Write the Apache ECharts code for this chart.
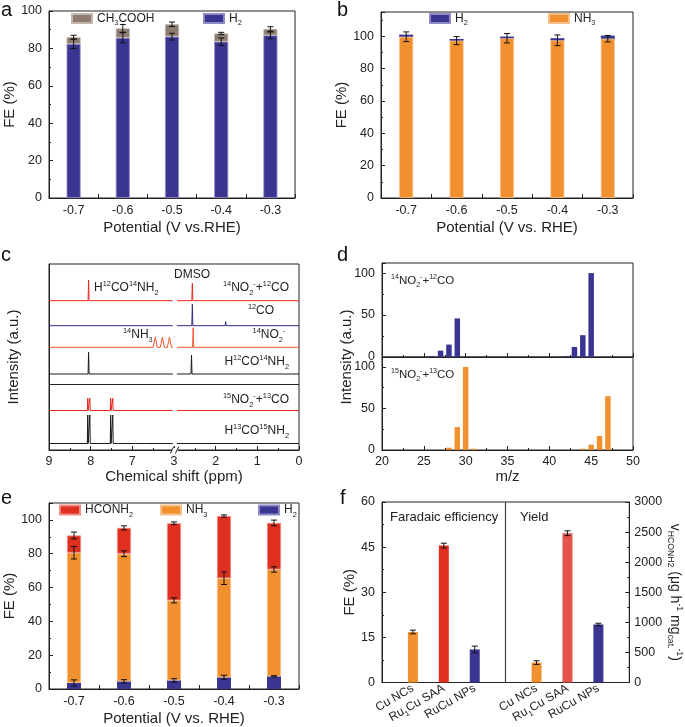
<!DOCTYPE html>
<html><head><meta charset="utf-8">
<script src="https://cdn.jsdelivr.net/npm/echarts@6/dist/echarts.min.js"></script>
<style>html,body{margin:0;padding:0;background:#fff}#c{width:685px;height:727px}</style>
</head><body><div id="c"></div>
<script>
// ---------------- DATA ----------------
const potentials = ['-0.7','-0.6','-0.5','-0.4','-0.3'];
// panel a
const aH2 = [82.4, 85.7, 86.3, 83.6, 87.0];
const aH2Err = [2.5, 2.7, 1.8, 2.0, 1.8];
const aCH3COOH = [3.6, 5.0, 6.6, 4.4, 3.4];
const aTotalErr = [1.0, 2.1, 1.2, 0.6, 1.2];
// panel b
const bNH3 = [99.7, 97.3, 98.8, 97.5, 98.5];
const bH2 = [1.3, 1.0, 1.0, 1.3, 1.9];
const bNH3Err = [3.0, 2.5, 2.9, 3.3, 2.0];
// panel c : NMR peaks [ppm, height (a.u.), half width (ppm)]
const nmrNames = ['^{14}NO_{2}^{-}+^{12}CO', '^{12}CO', '^{14}NO_{2}^{-}', 'H^{12}CO^{14}NH_{2}', '^{15}NO_{2}^{-}+^{13}CO', 'H^{13}CO^{15}NH_{2}'];
const nmrPeaks = [
  [[8.05,20.7,0.012],[2.56,17.4,0.012],[2.25,1.2,0.012],[1.77,1.5,0.012]],
  [[2.56,21.4,0.012],[1.76,4,0.012]],
  [[6.45,10,0.05],[6.28,10,0.05],[6.11,10,0.05],[2.54,19.6,0.012]],
  [[8.05,21.7,0.012],[2.58,19,0.012]],
  [[8.07,12.3,0.01],[8.02,12.3,0.01],[7.52,12.3,0.01],[7.47,12.3,0.01]],
  [[8.07,28.5,0.01],[8.02,28.5,0.01],[7.52,28.5,0.01],[7.47,28.5,0.01],[7.31,2,0.02],[7.06,1.5,0.02],[6.9,1.5,0.02],[6.66,1,0.02]]
];
// panel d : mass spectra
const dTopMz = [26, 27, 28, 29, 42, 43, 44, 45];
const dTopInt = [1, 7.6, 14.8, 46, 1, 12, 26, 100];
const dBotMz = [28, 29, 30, 31, 44, 45, 46, 47];
const dBotInt = [2.8, 27.6, 100, 1.5, 1.5, 6.4, 17, 64.8];
// panel e
const eH2 = [3.6, 4.5, 5.1, 6.9, 7.5];
const eNH3 = [77.0, 75.5, 47.3, 58.6, 63.2];
const eHCONH2 = [10.2, 15.3, 45.6, 36.8, 27.5];
const eH2Err = [1.8, 1.0, 1.0, 1.2, 0.4];
const eNH3Err = [3.7, 1.7, 1.5, 3.7, 1.6];
const eHCONH2Err = [2.0, 1.2, 0.8, 0.7, 1.7];
// panel f
const fCats = ['Cu NCs', 'Ru_{1}Cu SAA', 'RuCu NPs'];
const fFE = [16.8, 45.5, 11.0];
const fFEErr = [0.6, 0.8, 1.1];
const fYield = [331, 2481, 965];
const fYieldErr = [30, 40, 20];

// ---------------- LAYOUT / STYLE ----------------
const FONT = '"Liberation Sans", Arial, Helvetica, sans-serif';
const AX = '#222';
const C_BLUE = '#3b3592', C_BROWN = '#8d7c6f', C_ORANGE = '#f0902f', C_RED = '#df2f1f', C_RED2 = '#e5544c';
const nmrColors = ['#e8271f', '#2e2a8c', '#f0542b', '#1a1a1a', '#e8271f', '#1a1a1a'];
const nmrOffsets = [149.3, 124.3, 102.7, 76, 39.5, 6.5];
const legendNames = {H2: 'H_{2}', CH3COOH: 'CH_{3}COOH', NH3: 'NH_{3}', HCONH2: 'HCONH_{2}'};

function richFor(size){
  const s = Math.round(size * 0.62 * 10) / 10;
  return {
    n: {fontSize: size, lineHeight: size + 4, fontFamily: FONT, color: '#222'},
    nb: {fontSize: s, lineHeight: s, verticalAlign: 'bottom', fontFamily: FONT, color: '#222'},
    np: {fontSize: s, lineHeight: s, verticalAlign: 'top', fontFamily: FONT, color: '#222'}
  };
}
function rt(s){
  let out = '', buf = '', i = 0;
  const flush = () => { if (buf) { out += '{n|' + buf + '}'; buf = ''; } };
  while (i < s.length) {
    if ((s[i] === '_' || s[i] === '^') && s[i + 1] === '{') {
      flush();
      const j = s.indexOf('}', i);
      out += '{' + (s[i] === '_' ? 'nb' : 'np') + '|' + s.slice(i + 2, j) + '}';
      i = j + 1;
    } else { buf += s[i]; i++; }
  }
  flush();
  return out;
}
function errRender(params, api){
  const x = api.value(0);
  const lo = api.coord([x, api.value(1)]);
  const hi = api.coord([x, api.value(2)]);
  const c = 3, st = {stroke: '#111', lineWidth: 1};
  return {type: 'group', children: [
    {type: 'line', shape: {x1: lo[0], y1: lo[1], x2: hi[0], y2: hi[1]}, style: st},
    {type: 'line', shape: {x1: lo[0] - c, y1: lo[1], x2: lo[0] + c, y2: lo[1]}, style: st},
    {type: 'line', shape: {x1: hi[0] - c, y1: hi[1], x2: hi[0] + c, y2: hi[1]}, style: st}
  ]};
}
function errSeries(xi, yi, xs, centers, errs){
  return {type: 'custom', xAxisIndex: xi, yAxisIndex: yi, renderItem: errRender, silent: true, z: 6,
    encode: {x: 0, y: [1, 2]},
    data: centers.map((c, i) => [xs[i], c - errs[i], c + errs[i]])};
}
const idx5 = potentials.map((_, i) => i);
function cum(...arrs){ return arrs[0].map((_, i) => arrs.reduce((s, a) => s + a[i], 0)); }

const axLine = {show: true, onZero: false, lineStyle: {color: AX, width: 1}};
const tickIn = {show: true, inside: true, length: 4, lineStyle: {color: AX}};
const minorIn = {show: true, splitNumber: 2, length: 2, lineStyle: {color: AX}};
function lbl(extra){ return Object.assign({color: '#222', fontSize: 12.5, fontFamily: FONT}, extra || {}); }
const nameTS = {color: '#222', fontSize: 15, fontFamily: FONT};
const plain = v => String(v);

function catX(grid, name){
  return {type: 'category', gridIndex: grid, data: potentials, axisLine: axLine, axisTick: tickIn,
    axisLabel: lbl({margin: 6}), name: name, nameLocation: 'middle', nameGap: 22, nameTextStyle: nameTS};
}
function valY(grid, min, max, interval, extra){
  return Object.assign({type: 'value', gridIndex: grid, min: min, max: max, interval: interval,
    axisLine: axLine, axisTick: tickIn, minorTick: minorIn, splitLine: {show: false},
    axisLabel: lbl({margin: 7, formatter: plain, showMaxLabel: max % interval === 0}), nameTextStyle: nameTS,
    nameLocation: 'middle'}, extra || {});
}

// spectra segments: left part 9 -> 6.03 ppm, right part 2.93 -> 0 ppm (axis broken between 6 and 3)
function segPoints(peaks, hi, lo, offset, shift){
  const pts = [[hi, 0]];
  peaks.filter(p => p[0] <= hi && p[0] >= lo).sort((a, b) => b[0] - a[0]).forEach(p => {
    pts.push([p[0] + p[2], 0], [p[0], p[1]], [p[0] - p[2], 0]);
  });
  pts.push([lo, 0]);
  return pts.map(p => [p[0] - shift, offset + p[1]]);
}

const series = [];
// panel a
series.push({name: 'H2', type: 'bar', xAxisIndex: 0, yAxisIndex: 0, stack: 'a', barWidth: 14, data: aH2,
  itemStyle: {color: C_BLUE, borderColor: '#8f8ac4', borderWidth: 0.8}});
series.push({name: 'CH3COOH', type: 'bar', xAxisIndex: 0, yAxisIndex: 0, stack: 'a', barWidth: 14, data: aCH3COOH,
  itemStyle: {color: C_BROWN, borderColor: '#c2b7ad', borderWidth: 0.8}});
series.push(errSeries(0, 0, idx5, aH2, aH2Err));
series.push(errSeries(0, 0, idx5, cum(aH2, aCH3COOH), aTotalErr));
// panel b
series.push({name: 'NH3', type: 'bar', xAxisIndex: 1, yAxisIndex: 1, stack: 'b', barWidth: 14, data: bNH3,
  itemStyle: {color: C_ORANGE, borderColor: '#f7c08a', borderWidth: 0.8}});
series.push({name: 'H2', type: 'bar', xAxisIndex: 1, yAxisIndex: 1, stack: 'b', barWidth: 14, data: bH2,
  itemStyle: {color: C_BLUE}});
series.push(errSeries(1, 1, idx5, bNH3, bNH3Err));
// panel c
nmrPeaks.forEach((peaks, k) => {
  const common = {type: 'line', xAxisIndex: 2, yAxisIndex: 2, showSymbol: false, symbol: 'none', silent: true,
    lineStyle: {color: nmrColors[k], width: 1}, animation: false};
  const left = Object.assign({}, common, {data: segPoints(peaks, 9, 6.03, nmrOffsets[k], 3)});
  const right = Object.assign({}, common, {data: segPoints(peaks, 2.93, 0, nmrOffsets[k], 0)});
  if (k === 0) {
    left.markLine = {silent: true, symbol: 'none', label: {show: false}, lineStyle: {color: AX, type: 'solid', width: 1},
      data: [{yAxis: 66}]};
  }
  series.push(left, right);
});
// panel d
series.push({type: 'bar', xAxisIndex: 3, yAxisIndex: 3, barWidth: 5.5, data: dTopMz.map((m, i) => [m, dTopInt[i]]),
  itemStyle: {color: C_BLUE}});
series.push({type: 'bar', xAxisIndex: 4, yAxisIndex: 4, barWidth: 5.5, data: dBotMz.map((m, i) => [m, dBotInt[i]]),
  itemStyle: {color: C_ORANGE}});
// panel e
series.push({name: 'H2', type: 'bar', xAxisIndex: 5, yAxisIndex: 5, stack: 'e', barWidth: 14, data: eH2,
  itemStyle: {color: C_BLUE}});
series.push({name: 'NH3', type: 'bar', xAxisIndex: 5, yAxisIndex: 5, stack: 'e', barWidth: 14, data: eNH3,
  itemStyle: {color: C_ORANGE, borderColor: '#f7c08a', borderWidth: 0.8}});
series.push({name: 'HCONH2', type: 'bar', xAxisIndex: 5, yAxisIndex: 5, stack: 'e', barWidth: 14, data: eHCONH2,
  itemStyle: {color: C_RED, borderColor: '#f08a80', borderWidth: 0.8}});
series.push(errSeries(5, 5, idx5, eH2, eH2Err));
series.push(errSeries(5, 5, idx5, cum(eH2, eNH3), eNH3Err));
series.push(errSeries(5, 5, idx5, cum(eH2, eNH3, eHCONH2), eHCONH2Err));
// panel f
const fAxisCats = [''].concat(fCats, [''], fCats, ['']);
const fColorsFE = [C_ORANGE, C_RED, C_BLUE];
const fColorsY = [C_ORANGE, C_RED2, C_BLUE];
const feData = fAxisCats.map(() => null), yData = fAxisCats.map(() => null);
fFE.forEach((v, i) => { feData[i + 1] = {value: v, itemStyle: {color: fColorsFE[i]}}; });
fYield.forEach((v, i) => { yData[i + 5] = {value: v, itemStyle: {color: fColorsY[i]}}; });
series.push({type: 'bar', xAxisIndex: 6, yAxisIndex: 6, barWidth: 10, barGap: '-100%', data: feData,
  markLine: {silent: true, symbol: 'none', label: {show: false}, lineStyle: {color: '#444', type: 'solid', width: 1.2},
    data: [{xAxis: 4}]}});
series.push({type: 'bar', xAxisIndex: 6, yAxisIndex: 7, barWidth: 10, barGap: '-100%', data: yData});
series.push(errSeries(6, 6, fFE.map((_, i) => i + 1), fFE, fFEErr));
series.push(errSeries(6, 7, fYield.map((_, i) => i + 5), fYield, fYieldErr));

function legendAt(left, top, name){
  return {left: left, top: top, padding: 0, itemWidth: 20, itemHeight: 9, icon: 'rect', selectedMode: false,
    data: [name], formatter: n => rt(legendNames[n]), textStyle: {fontSize: 12, fontFamily: FONT, color: '#222', rich: richFor(12)}};
}

const gridBase = {show: true, borderColor: AX, borderWidth: 1, backgroundColor: 'transparent', containLabel: false};
const option = {
  animation: false,
  backgroundColor: '#fff',
  grid: [
    Object.assign({left: 49, top: 11, width: 246, height: 187}, gridBase),
    Object.assign({left: 381, top: 12, width: 252, height: 186}, gridBase),
    Object.assign({left: 49, top: 264, width: 250, height: 186}, gridBase),
    Object.assign({left: 382, top: 263, width: 251, height: 94}, gridBase),
    Object.assign({left: 382, top: 357, width: 251, height: 93}, gridBase),
    Object.assign({left: 49, top: 503, width: 250, height: 186}, gridBase),
    Object.assign({left: 382, top: 502, width: 251, height: 187}, gridBase)
  ],
  legend: [
    legendAt(71, 12.5, 'CH3COOH'), legendAt(203, 12.5, 'H2'),
    legendAt(429, 12.5, 'H2'), legendAt(548, 12.5, 'NH3'),
    legendAt(59, 504, 'HCONH2'), legendAt(160, 504, 'NH3'), legendAt(258, 504, 'H2')
  ],
  xAxis: [
    catX(0, 'Potential (V vs.RHE)'),
    catX(1, 'Potential (V vs. RHE)'),
    {type: 'value', gridIndex: 2, min: 0, max: 6, interval: 1, inverse: true, axisLine: axLine, axisTick: tickIn,
      minorTick: minorIn, splitLine: {show: false},
      axisLabel: lbl({margin: 5, formatter: v => String(v > 3 ? v + 3 : v)}),
      name: 'Chemical shift (ppm)', nameLocation: 'middle', nameGap: 19, nameTextStyle: nameTS},
    {type: 'value', gridIndex: 3, min: 20, max: 50, interval: 5, axisLine: axLine, axisTick: tickIn,
      minorTick: minorIn, splitLine: {show: false}, axisLabel: {show: false}},
    {type: 'value', gridIndex: 4, min: 20, max: 50, interval: 5, axisLine: axLine, axisTick: tickIn,
      minorTick: minorIn, splitLine: {show: false}, axisLabel: lbl({margin: 5, formatter: plain}),
      name: 'm/z', nameLocation: 'middle', nameGap: 19, nameTextStyle: nameTS},
    catX(5, 'Potential (V vs. RHE)'),
    {type: 'category', gridIndex: 6, data: fAxisCats, boundaryGap: false, axisLine: axLine, axisTick: {show: false},
      axisLabel: lbl({interval: 0, rotate: 30, margin: 5, formatter: v => v ? rt(v) : '', rich: richFor(12)})}
  ],
  yAxis: [
    valY(0, 0, 100, 20, {name: 'FE (%)', nameGap: 28}),
    valY(1, 0, 115, 20, {name: 'FE (%)', nameGap: 28}),
    {type: 'value', gridIndex: 2, min: 0, max: 186, axisLine: axLine, axisTick: {show: false}, axisLabel: {show: false},
      splitLine: {show: false}, name: 'Intensity (a.u.)', nameLocation: 'middle', nameGap: 28, nameTextStyle: nameTS},
    valY(3, 0, 112, 50),
    valY(4, 0, 112, 50),
    valY(5, 0, 110, 20, {name: 'FE (%)', nameGap: 28}),
    valY(6, 0, 60, 15, {name: 'FE (%)', nameGap: 21}),
    valY(6, 0, 3000, 500, {position: 'right', axisLabel: lbl({margin: 5, formatter: plain}),
      name: rt('v_{HCONH2} (μg h^{-1} mg_{cat.}^{-1})'), nameRotate: -90, nameGap: 32,
      nameTextStyle: Object.assign({rich: richFor(14)}, nameTS, {fontSize: 14})})
  ],
  series: series
};

const chart = echarts.init(document.getElementById('c'), null, {renderer: 'canvas'});
chart.setOption(option);

// ----- annotations -----
function txt(x, y, s, align, size, extra){
  return Object.assign({type: 'text', x: x, y: y, z: 20, silent: true,
    style: {text: rt(s), rich: richFor(size || 12), align: align || 'left', textAlign: align || 'left',
      verticalAlign: 'middle', textVerticalAlign: 'middle', fontSize: size || 12, fontFamily: FONT, fill: '#222'}}, extra || {});
}
function letter(x, y, s){
  return {type: 'text', x: x, y: y, z: 20, silent: true,
    style: {text: s, fontSize: 20, fontFamily: FONT, fill: '#111', align: 'left', textAlign: 'left',
      verticalAlign: 'middle', textVerticalAlign: 'middle'}};
}
const bx = chart.convertToPixel({xAxisIndex: 2}, 2.98);
const by = chart.convertToPixel({yAxisIndex: 2}, 0);
const graphics = [
  letter(1, 10, 'a'), letter(337, 10, 'b'), letter(1, 255, 'c'), letter(337, 255, 'd'),
  letter(1, 498, 'e'), letter(340, 498, 'f'),
  // panel c labels
  txt(94, 288, 'H^{12}CO^{14}NH_{2}', 'left', 12),
  txt(192, 275, 'DMSO', 'center', 12),
  txt(289, 288, nmrNames[0], 'right', 12),
  txt(261, 311, nmrNames[1], 'center', 12),
  txt(123, 335, '^{14}NH_{3}', 'left', 12),
  txt(269, 335, nmrNames[2], 'center', 12),
  txt(289, 362, nmrNames[3], 'right', 12),
  txt(289, 400, nmrNames[4], 'right', 12),
  txt(289, 431, nmrNames[5], 'right', 12),
  // axis break marks
  {type: 'rect', z: 20, silent: true, shape: {x: bx - 3, y: by - 2, width: 6, height: 4}, style: {fill: '#fff'}},
  {type: 'line', z: 21, silent: true, shape: {x1: bx - 4.5, y1: by + 3.5, x2: bx - 1, y2: by - 3.5}, style: {stroke: '#222', lineWidth: 1}},
  {type: 'line', z: 21, silent: true, shape: {x1: bx + 0.5, y1: by + 3.5, x2: bx + 4, y2: by - 3.5}, style: {stroke: '#222', lineWidth: 1}},
  // panel d labels
  txt(391, 281, '^{14}NO_{2}^{-}+^{12}CO', 'left', 11.5),
  txt(391, 375, '^{15}NO_{2}^{-}+^{13}CO', 'left', 11.5),
  {type: 'text', x: 347, y: 357, rotation: Math.PI / 2, z: 20, silent: true,
    style: {text: 'Intensity (a.u.)', fontSize: 15, fontFamily: FONT, fill: '#222', align: 'center', textAlign: 'center',
      verticalAlign: 'middle', textVerticalAlign: 'middle'}},
  // panel f labels
  txt(390, 517, 'Faradaic efficiency', 'left', 13),
  txt(520, 517, 'Yield', 'left', 13)
];
chart.setOption({graphic: {elements: graphics}});
</script>
</body></html>
